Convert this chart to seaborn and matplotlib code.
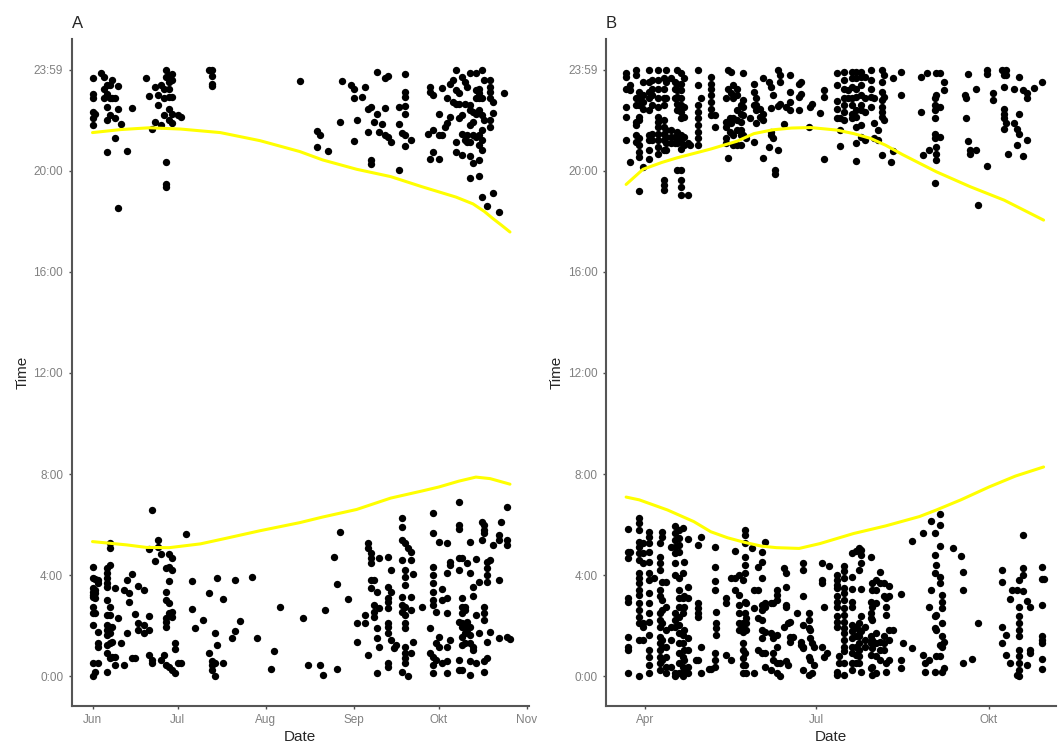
import pandas as pd
import matplotlib.pyplot as plt
import seaborn as sns

# each row is (days since first tick, [hours of the day])
a_evening = [
(0,[23.66,23.04,22.85,22.32,22.06,21.79]),(1,[22.25]),(3,[23.87]),(4,[23.7,23.24,22.85]),
(5,[23.37,23.04,22.52,22.0,20.74]),(6,[23.37,22.85,22.19]),(7,[23.57,22.85]),(8,[22.85,22.06,21.27]),
(9,[23.35,22.45,18.53]),(10,[21.82]),(12,[20.77]),(14,[22.48]),(19,[23.66]),(20,[22.95]),(21,[21.64]),
(22,[23.3,21.92]),(23,[23.0,22.58]),(24,[23.37,21.79]),(25,[23.24,22.85,22.19]),
(26,[23.97,23.7,20.34,19.45,19.34]),(27,[23.77,23.5,23.24,22.91,22.45,22.0]),
(28,[23.8,23.57,22.91,22.25,21.86]),(30,[22.19]),(31,[22.12]),(41,[23.97]),(42,[23.97,23.74,23.44,23.35]),
(73,[23.53]),(79,[21.56,20.94]),(80,[21.42]),(83,[20.78]),(87,[21.92]),(88,[23.55]),(91,[23.4]),
(92,[23.24,22.85,21.17]),(93,[22.0]),(95,[22.89]),(96,[23.31]),(97,[22.45,21.53]),(98,[22.52,20.41,20.24]),
(99,[21.92]),(100,[23.9,22.23]),(101,[21.53]),(102,[21.83]),(103,[23.64,22.49,21.4]),(104,[23.74,21.33]),
(105,[21.13]),(108,[22.52,21.82,20.01]),(109,[21.5]),(110,[23.8,23.11,22.91,22.54,22.23,21.4,20.98]),
(112,[21.19]),(118,[21.44]),(119,[23.31,23.11,20.45]),(120,[22.98,21.6,20.74]),(122,[22.23,21.42,20.45]),
(123,[23.28,21.42]),(124,[21.73]),(125,[22.85,21.86]),(126,[23.44,22.1]),(127,[23.57,22.72]),
(128,[23.97,23.18,22.65,21.13,20.74]),(129,[23.05,22.65,22.06]),(130,[23.7,22.19,21.46,20.61]),
(131,[23.5,22.65,21.2]),(132,[23.31,21.4,21.13]),(133,[23.87,22.58,22.39,21.79,21.13,20.58,19.72]),
(134,[22.32,21.92,21.4,20.28]),(135,[23.84,23.18,22.85,22.25,21.33]),
(136,[23.24,23.05,22.85,22.39,21.4,21.0,20.41,19.79]),(137,[23.97,22.85,22.19,21.6,21.2,20.8,18.96]),
(138,[23.57,22.0]),(139,[18.6]),(140,[23.57,23.31,23.11,22.85,22.0,21.73]),(141,[22.72,22.29,19.12]),
(143,[18.37]),(145,[23.08]),
]

a_morning = [
(0,[4.34,3.88,3.48,3.35,3.22,3.15,2.76,2.49,2.03,0.52,0.0]),(1,[3.84,3.42,3.29,3.09,2.49,0.19]),
(2,[3.81,3.68,1.77,1.31,1.18,0.52]),(5,[4.27,4.08,3.88,3.68,3.55,3.02,2.43,2.03,1.84,1.64,1.24,0.91,0.19]),
(6,[5.29,5.06,4.41,2.76,2.43,1.97,1.7,1.31,0.72]),(7,[1.97,1.38,0.78]),(8,[3.48,0.78,0.45]),(9,[2.3]),
(10,[1.31]),(11,[3.42,0.45]),(12,[3.81,1.7]),(13,[3.29,2.96]),(14,[4.04,0.72]),(15,[2.47,0.72]),
(16,[3.59,2.1,1.84]),(18,[3.42,2.03,1.7]),(20,[5.02,2.39,1.84,0.85]),(21,[6.58,0.65,0.52]),(22,[4.58]),
(23,[5.39,5.1]),(24,[4.84,0.65]),(25,[0.85]),(26,[4.27,3.35,3.02,2.3,2.17,1.97,0.45]),
(27,[4.84,4.31,3.79,2.92,2.49,0.39]),(28,[4.67,4.21,2.56,2.36,0.26]),(29,[1.31,1.07,0.15]),(30,[0.55]),
(31,[0.55]),(33,[5.62]),(35,[3.79,2.65]),(36,[1.9]),(39,[2.23]),(41,[3.31,0.91]),(42,[0.62,0.45,0.26]),
(43,[1.7,0.52,0.0]),(44,[3.88,1.24]),(46,[3.05,0.55]),(49,[1.51]),(50,[3.81,1.81]),(52,[2.2]),(56,[3.94]),
(58,[1.51]),(63,[0.3]),(64,[1.0]),(66,[2.73]),(74,[2.3]),(76,[0.45]),(80,[0.45]),(81,[0.06]),(82,[2.63]),
(85,[4.73]),(86,[3.64,0.28]),(87,[5.7]),(90,[3.05]),(93,[2.1,1.38]),(96,[2.43,2.1]),(97,[5.29,5.06,0.85]),
(98,[4.87,4.67,4.47,3.81,3.48]),(99,[3.81,2.82,2.56,2.36]),(100,[3.35,1.9,1.51,0.15]),(101,[4.7,2.69,1.18]),
(104,[4.73,3.55,3.09,2.96,2.69,2.1,1.97,1.7,0.52,0.39]),(105,[4.21,3.35,1.44]),(106,[1.11]),(107,[1.24]),
(109,[6.25,5.92,5.39,4.6,3.15,2.82,2.56,0.19]),(110,[5.26,4.21,3.94,3.62,2.76,2.43,2.1,1.9,1.18,0.91,0.72,0.52]),
(111,[5.06,0.0]),(112,[4.93,4.6,3.15,2.63,0.91]),(113,[4.05,1.38]),(116,[2.73]),(119,[1.9,0.91]),
(120,[6.45,5.66,4.34,4.01,3.68,3.35,3.02,2.82,0.78,0.45,0.12]),(121,[2.56,1.31,0.65]),(122,[5.33,1.57,1.18]),
(123,[3.44,3.02,0.52]),(125,[5.26,4.08,3.09,2.49,1.18,0.59,0.12]),(126,[4.54,4.41,1.44]),
(129,[6.91,5.99,5.82,4.67,4.21,2.17,0.65,0.26]),(130,[4.67,3.09,2.76,2.49,2.1,1.97,1.57,1.24,0.26]),
(131,[2.76,2.63,2.03,1.7,1.31]),(132,[4.47,2.17,1.84]),(133,[5.33,4.08,1.97,1.64,1.31,0.59,0.06]),
(134,[3.55,3.18,1.18,1.05]),(135,[4.63,2.43,0.52]),(136,[3.75,1.7]),(137,[6.12,5.39]),
(138,[5.99,5.79,5.66,2.76,2.49,2.23,0.59,0.19]),(139,[4.54,4.27,4.01,3.75,1.38,0.72]),(140,[4.6,1.77]),
(141,[5.2]),(143,[5.59,5.39,3.81,1.51]),(144,[6.12]),(146,[6.68,5.39,5.2,1.57]),(147,[1.47]),
]

b_evening = [
(-10,[23.84,23.7,23.24,22.52,22.12,21.2]),(-8,[23.37,23.18,20.32]),(-5,[23.97,23.77,22.85,22.58,21.92,21.79,21.4,21.13]),
(-3,[23.11,22.85,22.58,22.12,22.0,21.27,21.0,20.74,20.54,19.18]),(-1,[23.5,22.98,22.72,22.45,20.15]),
(2,[23.97,23.5,23.11,22.85,22.39,21.4,21.2,20.8,20.45]),(4,[23.57,23.24,22.98,22.58,21.46,21.2]),
(7,[23.97,23.57,23.24,22.85,22.52,22.12,21.92,21.73,21.46,21.2,20.94,20.67]),
(10,[23.64,23.24,22.85,22.58,21.99,21.73,21.46,21.2,20.8,19.62,19.42,19.22]),
(11,[23.97,23.5,22.85,21.6,21.33,21.07,20.8]),(14,[23.64,21.6,21.33,21.07]),(16,[23.5,23.24,22.85,21.33,21.07]),
(17,[23.97,23.44,23.18,22.91,22.65,22.39,21.53,21.27,21.07,20.01]),
(19,[23.84,23.44,23.18,22.85,22.58,22.32,22.06,21.4,21.13,20.87,20.01,19.62,19.36,19.03]),
(21,[23.64,22.52,22.12,21.33,21.0]),(23,[21.07,19.03]),(24,[21.0]),
(28,[23.97,23.37,22.58,22.32,22.06,21.79,21.53,21.27,21.0]),(30,[22.85]),
(35,[23.7,23.44,23.24,22.98,22.72,22.45,22.19]),(37,[22.19,21.73]),(43,[22.85,21.92,21.73,21.27,21.07]),
(44,[23.97,23.24,20.5]),(45,[22.06,21.53]),(46,[23.9,23.05,21.86]),(47,[23.37,22.85,22.06,21.4,21.0]),
(49,[23.24,22.98,22.39,22.0,21.6,21.0]),(51,[22.58,22.25,21.92,21.6,21.4,21.0]),(52,[23.84,22.78,22.52,22.19,21.4]),
(54,[21.27]),(56,[22.06]),(58,[23.44,23.11,22.58,21.11]),(59,[22.85,22.58,22.39,21.86]),(61,[22.45,22.12]),
(63,[23.64,22.25,21.99,20.5]),(66,[23.5,20.94]),(67,[23.31,22.48,21.53,21.4]),(68,[22.98,21.27]),(69,[20.01,19.88]),
(71,[23.98,22.56,20.8]),(72,[23.77,23.5,22.65]),(74,[21.82]),(75,[22.52]),(77,[23.77,23.11,22.72,22.39]),
(82,[23.44,22.91,22.39]),(83,[23.5,23.04]),(87,[21.73]),(88,[22.52]),(89,[22.65]),(93,[22.29]),(95,[23.18,22.91,20.45]),
(102,[23.87,23.37,22.74,22.45,22.06]),(104,[22.06,21.6,20.98]),(106,[23.9,23.57,23.24,22.85,22.58,22.32,21.99]),
(108,[23.18,22.85]),(110,[23.9,23.64,23.31,22.85,22.58,22.25,22.06]),
(112,[23.9,23.64,23.24,22.91,22.39,22.12,21.73,21.07,20.37]),(115,[23.9,23.7,23.37,22.98,22.58,22.39,21.79,21.33]),
(117,[23.7,22.85,22.32,21.2]),(120,[23.97,23.57,23.24,22.91,22.52]),(122,[22.85,21.86,21.27]),(124,[21.6,21.2]),
(126,[23.97,23.5,23.11,22.78,22.52,22.32,22.12,20.63]),(127,[23.77,22.91,21.99]),(131,[20.32]),(132,[23.66,20.77]),
(136,[23.9,23.0]),(147,[23.7,22.32]),(148,[20.61]),(150,[23.84]),(151,[20.8]),
(154,[22.85,22.58,22.39,22.06,21.46,21.27,19.49]),(155,[23.84,22.98,20.94,20.67,20.41]),(157,[23.84,22.52,21.33]),
(159,[23.5,23.18]),(170,[23.0]),(171,[22.85,22.08]),(172,[23.8,21.16]),(173,[20.8,20.67]),(176,[23.24,20.83]),
(177,[18.63]),(182,[23.97,23.8,20.17]),(185,[23.08,22.78]),(190,[23.97]),(191,[23.77,23.31,22.45,22.25,22.06,21.66]),
(192,[23.97,23.77,21.86]),(193,[20.67]),(196,[23.24,21.86]),(198,[21.66,21.0]),(199,[23.7,22.25,21.46]),
(201,[23.18,20.57]),(203,[23.05,22.87,21.2]),(207,[23.28]),(211,[23.5]),
]

b_morning = [
(-9,[5.82,4.93,4.67,3.09,2.96,1.57,1.18,1.05,0.12]),(-8,[4.93]),
(-3,[6.25,6.05,5.79,5.33,5.13,4.87,4.6,4.08,3.88,3.68,3.42,3.22,2.89,2.63,2.36,2.1,1.44,0.0]),
(-1,[5.26,4.87,4.47,2.1,1.97,1.44]),(2,[5.72,5.53,5.26,4.93,4.54,4.08,3.81,3.29,2.89,2.5,2.17,1.64,1.05,0.78,0.45,0.12]),
(5,[3.88]),(8,[5.26,4.74,4.47,4.21,3.42,3.16,2.5,2.23,1.97,1.57,1.31,1.05,0.78,0.52,0.26]),
(9,[5.72,5.53,3.75,3.02,2.63,2.1,1.44,1.18,0.65]),(11,[3.75,2.76,1.84,1.18,0.78,0.39,0.12]),(14,[5.13,1.97,1.44,0.39]),
(16,[5.95,5.66,5.39,5.13,4.87,4.47,4.01,2.5,2.23,1.97,0.12,0.0]),
(18,[5.79,5.46,5.2,4.93,3.88,3.42,3.09,2.76,2.36,2.03,1.7,1.31,0.92,0.52,0.12]),
(20,[5.86,4.08,3.09,2.7,2.5,1.64,1.31,0.78,0.39,0.0]),(21,[4.54,3.16,2.76,1.84,1.05,0.65,0.26]),
(23,[5.42,3.55,3.09,1.51,1.05,0.39,0.12]),(27,[0.65]),(28,[5.2,2.89,2.7,2.5,2.36,0.65]),(30,[5.53,1.18,0.12]),
(34,[0.28]),(35,[0.28]),(37,[5.13,4.31,3.79,3.42,0.92,0.65,0.39]),(38,[2.56,2.1,1.9,1.64]),(43,[3.09,2.89,0.85]),
(46,[3.88,0.65]),(48,[4.96,3.88,3.42]),(50,[4.01,3.22,2.82,2.5,2.1,1.84]),
(52,[3.81,2.1,1.97,1.77,1.31,1.05,0.72,0.45,0.12]),(53,[5.79,5.59,5.26,4.74,4.41,4.08,2.96,2.5,0.92,0.45]),
(54,[2.89,2.3,2.1,1.84,0.12]),(57,[5.06]),(58,[3.42,2.69,0.12]),(60,[4.34,3.42,2.3,1.05]),
(62,[4.93,4.54,3.88,2.82,2.63,2.23,1.84,1.51,0.92]),(64,[5.33,2.89,2.76,1.77,0.92,0.39]),(67,[2.89,1.7,0.26]),
(68,[2.89,1.51,0.92,0.65]),(70,[3.42,3.22,3.02,1.64,1.18,0.52,0.12]),(72,[0.52,0.0]),(74,[4.27,1.97]),
(75,[4.08,3.55,2.82,2.76,0.59]),(76,[2.1,0.45]),(77,[2.17,1.57,1.38]),(79,[1.57]),(81,[2.5]),(83,[1.38,1.24]),
(84,[4.5,4.21,3.18,2.03,1.18,1.11,0.26]),(87,[2.5,2.23,1.9,0.78,0.06]),(88,[1.84,1.51,0.65]),(89,[1.31,0.12]),
(90,[1.18,0.45]),(94,[4.5,3.81,3.68,1.18]),(95,[2.73,0.78]),(97,[0.92]),(98,[4.37]),
(102,[4.02,3.82,3.62,3.49,3.16,2.96,2.76,2.37,2.17,1.97,0.19,0.06]),(103,[0.79,0.52]),
(106,[4.35,4.15,3.88,3.49,3.29,3.03,2.7,2.44,2.17,1.91,1.71,1.45,1.18,0.99,0.52,0.06]),
(110,[4.87,3.92,3.45,2.96,2.76,2.04,1.78,1.51,1.18,0.92,0.52,0.26]),(112,[4.94,1.97,1.58,1.18,0.85,0.52]),
(114,[5.07,4.21,2.11,1.84,1.58,1.31,1.05,0.79,0.52]),(115,[5.0,4.81,4.48,3.45,2.37,1.78,0.19]),(117,[1.97,1.45,1.18]),
(120,[4.74,2.96,2.5,2.3,1.58,1.31,0.85,0.33]),(121,[3.69,3.42,2.76,2.24,1.45,1.12,0.39,0.06]),
(123,[3.82,3.42,2.9,1.71,1.31,0.79,0.13]),(125,[4.11,3.69,1.38,1.05,0.66]),(127,[3.69,3.16,1.58,1.31,1.05]),
(128,[3.09,2.76,2.43,0.52,0.19]),(130,[3.58,3.16,1.84,1.45,0.66]),(132,[1.84]),(136,[3.25,0.66,0.33]),(137,[1.34]),
(142,[5.37,1.14]),(148,[5.66,0.85]),(149,[0.52,0.19]),(151,[2.74,0.66]),(152,[6.16,3.4]),
(154,[5.66,4.81,4.08,2.37,1.91,0.19]),(155,[4.41,2.43,1.84,0.79]),(157,[6.43,5.99,5.16,3.95,3.69,1.25,0.79]),
(158,[3.23,2.96,2.7,2.11,1.58,1.18,0.19]),(159,[1.38,0.33]),(164,[5.07]),(168,[4.77]),(169,[4.12,3.4,0.52]),
(174,[0.68]),(177,[2.13]),(190,[4.21,3.75,1.95,1.34]),(192,[1.64,0.85]),(194,[3.05,0.52]),(195,[3.4]),(198,[3.42,0.06]),
(199,[3.82,2.76,2.37,2.11,1.84,1.58,1.05,0.79,0.52,0.26,0.0]),(201,[5.6,4.28,4.02,3.36]),(203,[2.99,0.46]),
(205,[2.74,1.05,0.92]),(211,[4.31,3.84,2.83,1.58,1.45,1.31,0.68,0.29]),(212,[3.84]),
]

# smooth curves
a_top_days = [0,10,20,31,45,59,73,81,93,105,116,128,134,138,141,144,147]
a_top_hours = [21.5,21.62,21.69,21.64,21.5,21.18,20.75,20.42,20.05,19.76,19.36,18.95,18.68,18.38,18.1,17.84,17.57]
a_low_days = [0,12,19,27,38,47,59,73,81,93,105,116,122,129,135,140,147]
a_low_hours = [5.33,5.2,5.1,5.09,5.24,5.46,5.76,6.08,6.3,6.6,7.05,7.33,7.49,7.72,7.88,7.82,7.6]
b_top_days = [-10,-1,9,17,35,49,58,68,78,88,102,111,120,128,137,155,173,191,212]
b_top_hours = [19.45,20.05,20.32,20.5,20.85,21.16,21.46,21.61,21.68,21.7,21.6,21.46,21.27,21.0,20.63,19.95,19.36,18.83,18.04]
b_low_days = [-10,-3,12,26,35,44,53,62,70,82,93,111,128,146,155,168,183,197,212]
b_low_hours = [7.09,6.98,6.58,6.12,5.72,5.48,5.3,5.15,5.09,5.06,5.25,5.65,5.95,6.32,6.58,6.98,7.49,7.92,8.28]

a_tick_days = [0,30,61,92,122,153]
a_tick_labels = ['Jun','Jul','Aug','Sep','Okt','Nov']
b_tick_days = [0,91,183]
b_tick_labels = ['Apr','Jul','Okt']
hour_ticks = [0,4,8,12,16,20,23.983]
hour_labels = ['0:00','4:00','8:00','12:00','16:00','20:00','23:59']

W, H = 1058, 744


def to_frame(rows):
    days = []
    hours = []
    for day, values in rows:
        for v in values:
            days.append(day)
            hours.append(v)
    return pd.DataFrame({'day': days, 'hour': hours})


def draw_panel(rect, title, points, top, low, ticks, labels, xlim):
    left, right, upper, lower = rect
    ax = fig.add_axes([left / W, 1 - lower / H, (right - left) / W, (lower - upper) / H])
    sns.scatterplot(data=to_frame(points), x='day', y='hour', color='black', s=28, linewidth=0, ax=ax)
    for days, hours in (top, low):
        sns.lineplot(x=days, y=hours, color='#ffff00', linewidth=2.2, errorbar=None, ax=ax)
    ax.set_xlim(xlim)
    ax.set_ylim(-1.15, 25.2)
    ax.set_xticks(ticks)
    ax.set_xticklabels(labels)
    ax.set_yticks(hour_ticks)
    ax.set_yticklabels(hour_labels)
    ax.tick_params(bottom=True, left=True, color='#4d4d4d', labelcolor='#808080',
                   labelsize=8.5, length=2.5, width=1, pad=3.5)
    ax.set_xlabel('Date', fontsize=11, labelpad=3)
    ax.set_ylabel('Time', fontsize=11, labelpad=3)
    ax.set_title(title, loc='left', fontsize=12, pad=8)
    for side in ['left', 'bottom']:
        ax.spines[side].set_color('#555555')
        ax.spines[side].set_linewidth(1.5)
    sns.despine(ax=ax)


sns.set_theme(style='white')
plt.rcParams['font.family'] = ['Liberation Sans', 'DejaVu Sans']

fig = plt.figure(figsize=(W / 100, H / 100), dpi=100)
draw_panel((71.5, 529, 39, 705.5), 'A', a_evening + a_morning,
           (a_top_days, a_top_hours), (a_low_days, a_low_hours), a_tick_days, a_tick_labels, (-7.4, 153.7))
draw_panel((606, 1056, 39, 705.5), 'B', b_evening + b_morning,
           (b_top_days, b_top_hours), (b_low_days, b_low_hours), b_tick_days, b_tick_labels, (-20.7, 218.6))
fig.savefig('out.png', dpi=100)
